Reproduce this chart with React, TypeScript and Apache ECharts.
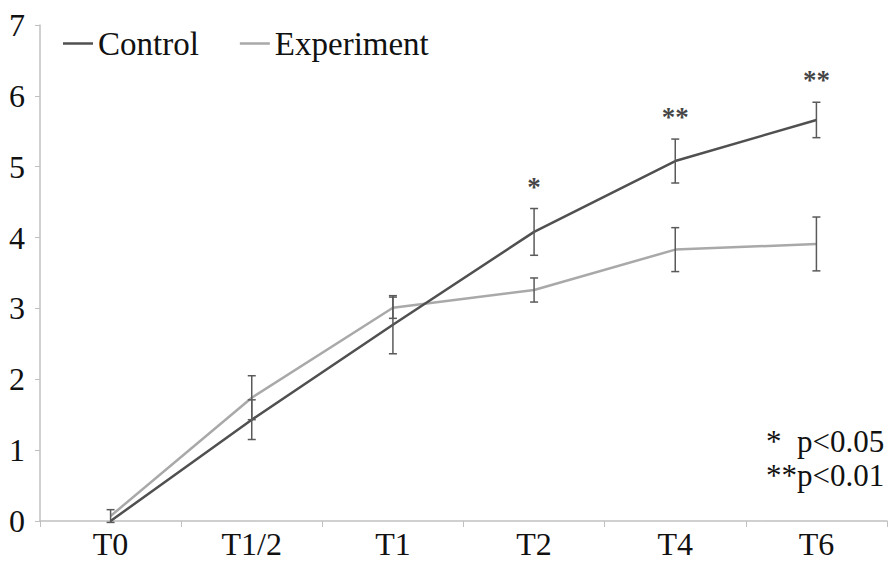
import React, { useEffect, useRef } from "react";
import * as echarts from "echarts";

const categories = ["T0", "T1/2", "T1", "T2", "T4", "T6"];
const controlMean = [0, 1.43, 2.77, 4.08, 5.08, 5.66];
const controlErr = [0, 0.28, 0.41, 0.33, 0.31, 0.25];
const experimentMean = [0.07, 1.74, 3.01, 3.26, 3.83, 3.91];
const experimentErr = [0.09, 0.31, 0.15, 0.17, 0.31, 0.38];
const significance = ["", "", "", "*", "**", "**"];
const yMin = 0;
const yMax = 7;
const yInterval = 1;
const noteText = "*  p<0.05\n**p<0.01";

const FONT = "Liberation Serif";

export default function App() {
  const ref = useRef<HTMLDivElement>(null);
  useEffect(() => {
    document.body.style.margin = "0";
    if (!ref.current) return;
    const chart = echarts.init(ref.current, undefined, { renderer: "svg" });

    const errData = (means: number[], errs: number[]) =>
      means.map((m, i) => [i, m - errs[i], m + errs[i]]);

    const errRender = (params: any, api: any) => {
      const i = api.value(0);
      const lo = api.value(1);
      const hi = api.value(2);
      if (hi - lo <= 0) return null;
      const p1 = api.coord([i, lo]);
      const p2 = api.coord([i, hi]);
      const hw = 4;
      const style = { stroke: "#5a5a5a", lineWidth: 1.5 };
      return {
        type: "group",
        children: [
          { type: "line", shape: { x1: p1[0], y1: p1[1], x2: p2[0], y2: p2[1] }, style },
          { type: "line", shape: { x1: p1[0] - hw, y1: p1[1], x2: p1[0] + hw, y2: p1[1] }, style },
          { type: "line", shape: { x1: p2[0] - hw, y1: p2[1], x2: p2[0] + hw, y2: p2[1] }, style },
        ],
      };
    };

    const sigData = significance
      .map((s, i) => ({ s, i }))
      .filter((d) => d.s)
      .map((d) => ({
        value: [d.i, controlMean[d.i] + controlErr[d.i]],
        label: { formatter: d.s },
      }));

    chart.setOption({
      animation: false,
      backgroundColor: "#ffffff",
      textStyle: { fontFamily: FONT },
      grid: { left: 40, right: 2, top: 25, bottom: 42, containLabel: false },
      legend: {
        data: ["Control", "Experiment"],
        left: 58,
        top: 22,
        icon: "rect",
        itemWidth: 30,
        itemHeight: 2.5,
        itemGap: 41,
        textStyle: { fontFamily: FONT, fontSize: 33, color: "#111" },
      },
      xAxis: {
        type: "category",
        data: categories,
        boundaryGap: true,
        axisLine: { show: true, lineStyle: { color: "#c0c0c0", width: 1.5 } },
        axisTick: { show: true, length: 6, lineStyle: { color: "#c0c0c0" } },
        axisLabel: { fontFamily: FONT, fontSize: 32, color: "#111", margin: 7 },
        splitLine: { show: false },
      },
      yAxis: {
        type: "value",
        min: yMin,
        max: yMax,
        interval: yInterval,
        axisLine: { show: true, lineStyle: { color: "#c0c0c0", width: 1.5 } },
        axisTick: { show: true, length: 5, lineStyle: { color: "#c0c0c0" } },
        axisLabel: { fontFamily: FONT, fontSize: 32, color: "#111", margin: 15 },
        splitLine: { show: false },
      },
      series: [
        {
          name: "Control",
          type: "line",
          data: controlMean,
          symbol: "none",
          itemStyle: { color: "#505050" },
          lineStyle: { color: "#505050", width: 2.5 },
          z: 3,
        },
        {
          name: "Experiment",
          type: "line",
          data: experimentMean,
          symbol: "none",
          itemStyle: { color: "#a9a9a9" },
          lineStyle: { color: "#a9a9a9", width: 2.5 },
          z: 2,
        },
        {
          name: "ControlErr",
          type: "custom",
          data: errData(controlMean, controlErr),
          renderItem: errRender,
          encode: { x: 0, y: [1, 2] },
          z: 4,
        },
        {
          name: "ExperimentErr",
          type: "custom",
          data: errData(experimentMean, experimentErr),
          renderItem: errRender,
          encode: { x: 0, y: [1, 2] },
          z: 4,
        },
        {
          name: "Significance",
          type: "scatter",
          data: sigData,
          symbol: "circle",
          symbolSize: 1,
          itemStyle: { color: "rgba(0,0,0,0)" },
          label: {
            show: true,
            position: "top",
            distance: 8,
            fontFamily: FONT,
            fontSize: 27,
            fontWeight: "bold",
            color: "#111",
          },
          z: 5,
        },
      ],
      graphic: [
        {
          type: "text",
          left: 766,
          top: 424,
          style: {
            text: noteText,
            fontFamily: FONT,
            fontSize: 31,
            lineHeight: 34,
            fill: "#111",
          },
        },
      ],
    });
    return () => chart.dispose();
  }, []);
  return <div ref={ref} style={{ width: 889, height: 563 }} />;
}
